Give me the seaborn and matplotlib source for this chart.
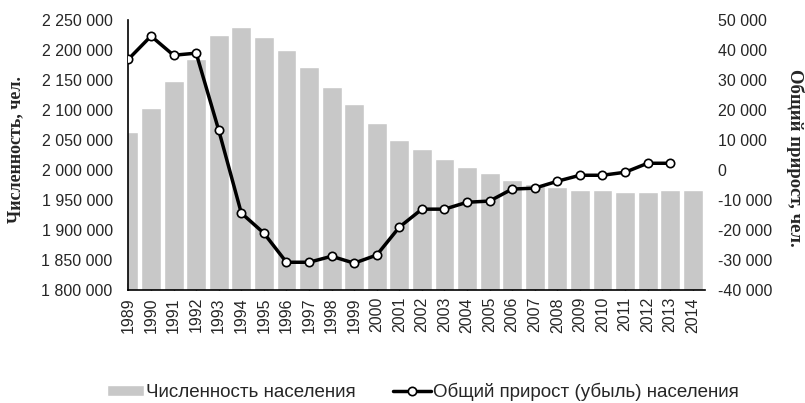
import matplotlib
matplotlib.use('Agg')
import matplotlib.pyplot as plt
import matplotlib.ticker as mticker
import seaborn as sns
import pandas as pd

years = [str(y) for y in range(1989, 2015)]

population = [2063000, 2103000, 2148000, 2185000, 2225000, 2238000, 2222000,
              2200000, 2172000, 2138000, 2110000, 2078000, 2050000, 2035000,
              2018000, 2005000, 1995000, 1983000, 1977000, 1972000, 1967000,
              1967000, 1963000, 1963000, 1967000, 1967000]

growth = [37000, 44700, 38300, 39000, 13300, -14300, -21000, -30700, -30700,
          -28700, -31000, -28300, -19000, -13000, -13000, -10700, -10300,
          -6300, -6000, -3700, -1700, -1700, -700, 2300, 2300, None]

left_ticks = list(range(1800000, 2250001, 50000))
right_ticks = list(range(-40000, 50001, 10000))

df = pd.DataFrame({'year': years, 'population': population, 'growth': growth})


def space_fmt(v, pos=None):
    return '{:,.0f}'.format(v).replace(',', ' ')


sns.set_style('white')
plt.rcParams['font.family'] = ['Liberation Sans', 'DejaVu Sans']

fig = plt.figure(figsize=(8.05, 4.03), dpi=100)
ax = fig.add_axes([0.159, 0.280, 0.717, 0.670])

sns.barplot(data=df, x='year', y='population', order=years, color='#c8c8c8',
            saturation=1, width=0.88, ax=ax, label='Численность населения')
ax.set_ylim(1800000, 2250000)
ax.set_yticks(left_ticks)
ax.yaxis.set_major_formatter(mticker.FuncFormatter(space_fmt))
ax.set_xlabel('')
ax.set_ylabel('Численность, чел.', family='Liberation Serif', fontweight='bold',
              fontsize=13, va='center')
ax.yaxis.set_label_coords(-0.194, 0.52)
ax.tick_params(axis='y', length=0, pad=11, labelsize=11.5)
ax.tick_params(axis='x', direction='in', length=5, width=1, color='black',
               pad=5, labelsize=11.5, labelrotation=90, bottom=True)
for side in ['top', 'right']:
    ax.spines[side].set_visible(False)
for side in ['left', 'bottom']:
    ax.spines[side].set_color('black')
    ax.spines[side].set_linewidth(1.2)

ax2 = ax.twinx()
sns.pointplot(data=df, x='year', y='growth', order=years, color='black',
              errorbar=None, markers='o', markersize=6, markerfacecolor='white',
              markeredgecolor='black', markeredgewidth=1.2, linewidth=2.5,
              ax=ax2, label='Общий прирост (убыль) населения')
ax2.set_ylim(-40000, 50000)
ax2.set_yticks(right_ticks)
ax2.yaxis.set_major_formatter(mticker.FuncFormatter(space_fmt))
ax2.set_ylabel('Общий прирост, чел.', family='Liberation Serif', fontweight='bold',
               fontsize=13.5, rotation=270, va='center')
ax2.yaxis.set_label_coords(1.155, 0.49)
ax2.tick_params(axis='y', length=0, pad=9, labelsize=11.5)
for side in ['top', 'right', 'left', 'bottom']:
    ax2.spines[side].set_visible(False)
ax2.set_xlabel('')
ax.set_xlim(-0.02, 25.55)
ax2.set_xlim(-0.02, 25.55)

if ax.get_legend():
    ax.get_legend().remove()
if ax2.get_legend():
    ax2.get_legend().remove()

h1, l1 = ax.get_legend_handles_labels()
h2, l2 = ax2.get_legend_handles_labels()
fig.legend(h1 + h2, l1 + l2, loc='center', bbox_to_anchor=(0.525, 0.027),
           ncol=2, frameon=False, fontsize=13.5, handlelength=2.0,
           handleheight=0.5, handletextpad=0.1, columnspacing=2.0)

fig.savefig('out.png', dpi=100)
